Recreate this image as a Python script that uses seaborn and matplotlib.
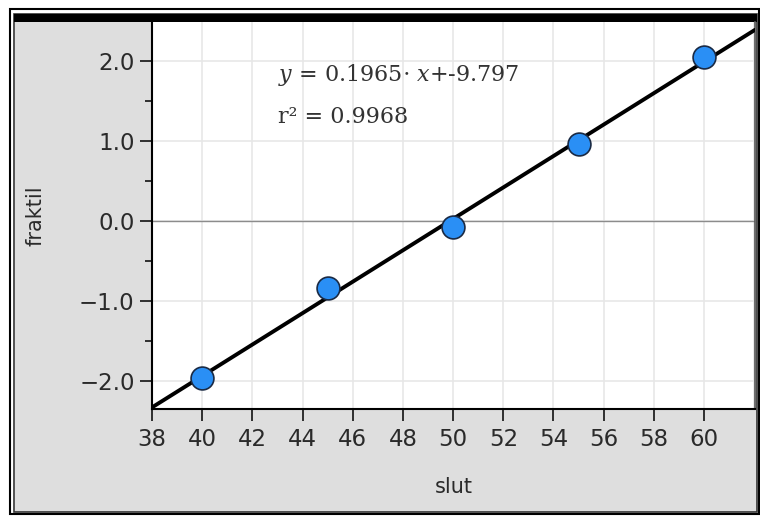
import matplotlib
matplotlib.use("Agg")
import matplotlib.pyplot as plt
from matplotlib.patches import Rectangle
import numpy as np
import pandas as pd
import seaborn as sns

# Data
slut = [40, 45, 50, 55, 60]
fraktil = [-1.96, -0.84, -0.07, 0.96, 2.05]

# Regression coefficients shown in the annotation
slope = 0.1965
intercept = -9.797
r_squared = 0.9968

x_ticks = [38, 40, 42, 44, 46, 48, 50, 52, 54, 56, 58, 60]
y_ticks = [-2.0, -1.0, 0.0, 1.0, 2.0]
x_range = (38, 62.03)
y_range = (-2.35, 2.49)

sns.set_theme(style="white")
plt.rcParams["font.family"] = ["DejaVu Sans"]
plt.rcParams["mathtext.fontset"] = "dejavuserif"

W, H = 760, 517
fig = plt.figure(figsize=(W / 100, H / 100), dpi=100)
fig.patch.set_facecolor("white")

def fr(x0, y0, x1, y1):
    """Pixel box (top-left origin) to figure-fraction rectangle args."""
    return (x0 / W, 1 - y1 / H), (x1 - x0) / W, (y1 - y0) / H

# Panel background and frame
(xy, w, h) = fr(15, 14, 757, 512)
fig.patches.append(Rectangle(xy, w, h, transform=fig.transFigure,
                             facecolor="#dedede", edgecolor="none", zorder=-3))
(xy, w, h) = fr(9.5, 8.5, 759, 514)
fig.patches.append(Rectangle(xy, w, h, transform=fig.transFigure,
                             facecolor="none", edgecolor="black", lw=1.5, zorder=-2))
(xy, w, h) = fr(14, 13.5, 757, 512)
fig.patches.append(Rectangle(xy, w, h, transform=fig.transFigure,
                             facecolor="none", edgecolor="#333333", lw=1.2, zorder=-2))
(xy, w, h) = fr(14, 13.5, 757, 22)
fig.patches.append(Rectangle(xy, w, h, transform=fig.transFigure,
                             facecolor="black", edgecolor="none", zorder=-1))

ax = fig.add_axes([152 / W, 1 - 409 / H, (755 - 152) / W, (409 - 22) / H])
ax.set_zorder(2)
ax.set_facecolor("white")

# Grid
for xv in x_ticks[1:] + [62]:
    ax.axvline(xv, color="#e6e6e6", lw=1.1, zorder=0)
for yv in y_ticks:
    ax.axhline(yv, color="#e6e6e6", lw=1.1, zorder=0)
ax.axhline(0, color="#8c8c8c", lw=1.0, zorder=1)

# Regression line from the stated coefficients
line_x = np.array(x_range)
line_df = pd.DataFrame({"slut": line_x, "fraktil": slope * line_x + intercept})
sns.lineplot(data=line_df, x="slut", y="fraktil", color="black", lw=2.8,
             ax=ax, zorder=3)

# Data points
df = pd.DataFrame({"slut": slut, "fraktil": fraktil})
sns.scatterplot(data=df, x="slut", y="fraktil", s=270, color="#2a8ff5",
                edgecolor="#1a2a44", linewidth=1.2, ax=ax, zorder=4)

ax.set_xlim(*x_range)
ax.set_ylim(*y_range)
ax.set_xticks(x_ticks)
ax.set_xticklabels([str(v) for v in x_ticks])
ax.set_yticks(y_ticks)
ax.set_yticklabels([f"{v:.1f}".replace("-", "\u2212") for v in y_ticks])
ax.set_yticks([-1.5, -0.5, 0.5, 1.5], minor=True)

ax.tick_params(axis="both", which="major", direction="out", length=8.5,
               width=1.1, color="black", labelsize=16.5, labelcolor="#2a2a2a",
               bottom=True, left=True)
ax.tick_params(axis="x", pad=5)
ax.tick_params(axis="y", pad=4)
ax.tick_params(axis="y", which="minor", direction="out", length=5,
               width=1.1, color="black", left=True)

for side in ["left", "bottom"]:
    ax.spines[side].set_color("black")
    ax.spines[side].set_linewidth(1.5)
ax.spines["top"].set_visible(False)
ax.spines["right"].set_color("#555555")
ax.spines["right"].set_linewidth(1.2)

ax.set_xlabel("slut", fontsize=15, color="#2a2a2a", labelpad=19)
ax.set_ylabel("fraktil", fontsize=15, color="#2a2a2a")
ax.yaxis.set_label_coords(-0.176, 0.5)

# Regression annotation
serif = ["DejaVu Serif"]
fig.text(278 / W, 1 - 75 / H,
         r"$y$ = 0.1965$\cdot$ $x$+-9.797",
         fontsize=16, family=serif, va="center", ha="left", color="#333333")
fig.text(278 / W, 1 - 117 / H, f"r\u00b2 = {r_squared:.4f}",
         fontsize=16, family=serif, va="center", ha="left", color="#333333")

fig.savefig("out.png", dpi=100)
